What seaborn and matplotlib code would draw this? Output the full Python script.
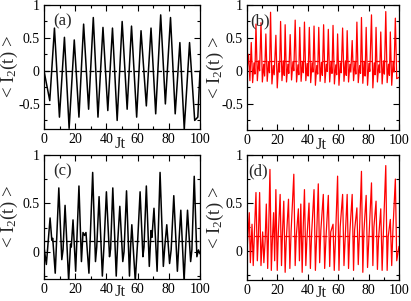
import matplotlib
matplotlib.use("Agg")
import numpy as np
import pandas as pd
import seaborn as sns
import matplotlib.pyplot as plt
from matplotlib.ticker import MultipleLocator, FixedLocator, FixedFormatter

# ---------------- data (turning points) ----------------
a_t = [0, 3.7, 6.7, 9.9, 13.1, 16.1, 19.4, 22.4, 25.4, 28.6, 31.6, 34.6, 37.8, 40.9,
       43.9, 46.9, 50.1, 53.3, 56.1, 59.4, 62.2, 65.6, 68.6, 71.6, 74.8, 77.8, 81.1,
       84.1, 87.1, 89.9, 93.3, 96.6, 98.6, 100]
a_y = [0, -0.45, 0.65, -0.70, 0.51, -0.87, 0.47, -0.70, 0.71, -0.58, 0.81, -0.70, 0.66,
       -0.60, 0.65, -0.75, 0.75, -0.58, 0.68, -0.70, 0.61, -0.53, 0.65, -0.65, 0.85,
       -0.50, 0.81, -0.65, 0.43, -0.88, 0.43, -0.75, -0.70, 0.0]
a_mean = 0.0

b_pk_t = [1.0, 2.8, 5.9, 9.2, 12.4, 15.5, 19.0, 22.1, 25.1, 28.4, 31.7, 34.7, 37.8, 41.0,
          44.1, 47.2, 50.4, 53.5, 56.6, 59.6, 62.9, 65.9, 69.2, 72.3, 75.3, 78.4, 81.9,
          84.9, 88.0, 91.3, 94.3, 97.6]
b_pk_y = [0.25, 0.43, 0.71, 0.73, 0.56, 0.89, 0.54, 0.75, 0.70, 0.55, 0.77, 0.66, 0.74,
          0.66, 0.68, 0.66, 0.70, 0.63, 0.69, 0.56, 0.65, 0.61, 0.46, 0.74, 0.81, 0.66,
          0.85, 0.66, 0.59, 0.90, 0.59, 0.80]
b_tr_t = [1.9, 3.7, 6.8, 10.1, 13.3, 16.4, 19.9, 23.0, 26.0, 29.3, 32.6, 35.6, 38.7, 41.9,
          45.0, 48.1, 51.3, 54.4, 57.5, 60.5, 63.8, 66.8, 70.1, 73.2, 76.2, 79.3, 82.8,
          85.8, 88.9, 92.2, 95.2, 98.5]
b_tr_y = [-0.15, -0.18, -0.15, -0.17, -0.16, -0.20, -0.26, -0.15, -0.17, -0.14, -0.17,
          -0.16, -0.15, -0.18, -0.22, -0.16, -0.18, -0.17, -0.20, -0.22, -0.16, -0.17,
          -0.15, -0.18, -0.19, -0.22, -0.26, -0.17, -0.20, -0.18, -0.22, -0.12]
b_bp_t = [4.6, 7.7, 11.0, 14.2, 17.3, 20.8, 23.9, 26.9, 30.2, 33.5, 36.5, 39.6, 42.8, 45.9,
          49.0, 52.2, 55.3, 58.4, 61.4, 64.7, 67.7, 71.0, 74.1, 77.1, 80.2, 83.7, 86.7,
          89.8, 93.1, 96.1]
b_bp_y = [0.12, 0.15, 0.10, 0.14, 0.08, 0.12, 0.15, 0.10, 0.13, 0.09, 0.14, 0.11, 0.12,
          0.08, 0.13, 0.10, 0.14, 0.09, 0.12, 0.15, 0.10, 0.13, 0.08, 0.14, 0.11, 0.12,
          0.09, 0.15, 0.10, 0.13]
b_dp_t = [5.2, 8.3, 11.6, 14.8, 17.9, 21.4, 24.5, 27.5, 30.8, 34.1, 37.1, 40.2, 43.4, 46.5,
          49.6, 52.8, 55.9, 59.0, 62.0, 65.3, 68.3, 71.6, 74.7, 77.7, 80.8, 84.3, 87.3,
          90.4, 93.7, 96.7]
b_dp_y = [-0.05, 0.0, -0.08, -0.03, -0.06, -0.02, -0.07, -0.04, 0.0, -0.06, -0.03, -0.08,
          -0.02, -0.05, -0.07, -0.01, -0.04, -0.06, -0.03, -0.07, -0.02, -0.05, -0.04,
          -0.08, -0.01, -0.06, -0.03, -0.05, -0.07, -0.02]
b_end_t = [0, 100]
b_end_y = [0.0, -0.10]
b_mean = 0.15

c_t = [0, 1.5, 3.9, 5.0, 5.6, 7.2, 9.5, 11.4, 12.2, 13.5, 15.8, 17.0, 17.5, 18.6, 20.3,
       22.4, 24.0, 25.0, 26.0, 26.9, 28.8, 31.2, 33.0, 33.8, 35.3, 37.4, 38.5, 40.0,
       42.0, 42.7, 44.1, 46.3, 47.3, 48.6, 50.5, 51.3, 52.9, 54.8, 55.5, 56.3, 58.5,
       60.0, 61.6, 63.4, 64.1, 65.6, 67.5, 68.6, 69.2, 70.5, 72.5, 74.4, 76.5, 77.4,
       78.7, 80.5, 81.5, 83.2, 85.5, 86.5, 87.7, 89.8, 90.8, 92.0, 94.0, 94.8, 96.3,
       98.0, 99.0, 100]
c_y = [0.05, -0.13, 0.35, 0.12, 0.14, -0.22, 0.66, -0.08, 0.02, 0.48, -0.30, 0.08, 0.05,
       0.33, -0.20, 0.68, -0.10, 0.20, 0.17, 0.20, -0.22, 0.82, -0.10, 0.05, 0.57, -0.25,
       0.08, 0.62, -0.05, 0.03, 0.66, -0.25, 0.12, 0.47, -0.10, 0.0, 0.63, -0.25, 0.05,
       0.28, -0.30, 0.10, 0.62, -0.05, 0.05, 0.68, -0.15, 0.22, 0.15, 0.45, -0.20, 0.82,
       -0.15, 0.05, 0.28, -0.12, 0.02, 0.58, -0.20, 0.10, 0.43, -0.30, 0.05, 0.43, -0.10,
       0.02, 0.78, -0.05, 0.02, -0.02]
c_mean = 0.115

d_pk_t = [1.5, 3.3, 5.9, 8.3, 10.3, 12.7, 15.1, 17.5, 19.0, 21.8, 24.2, 27.3, 30.8, 33.8,
          35.4, 37.8, 40.8, 44.1, 46.9, 50.2, 53.5, 56.6, 59.6, 62.9, 65.9, 69.2, 72.3,
          75.3, 78.4, 81.9, 84.9, 88.0, 91.3, 94.3, 97.6]
d_pk_y = [0.40, 0.28, 0.61, 0.61, 0.20, 0.49, 0.85, 0.40, 0.64, 0.59, 0.52, 0.54, 0.80,
          0.44, 0.49, 0.64, 0.50, 0.64, 0.70, 0.59, 0.58, 0.28, 0.78, 0.59, 0.59, 0.59,
          0.45, 0.83, 0.58, 0.71, 0.52, 0.44, 0.89, 0.33, 0.75]
d_tr_t = [2.2, 4.1, 6.8, 9.2, 11.1, 13.6, 16.0, 18.2, 19.9, 22.7, 25.1, 28.2, 31.7, 34.5,
          36.3, 38.7, 41.7, 45.0, 47.8, 51.1, 54.4, 57.4, 60.5, 63.8, 66.8, 70.1, 73.2,
          76.2, 79.3, 82.8, 85.8, 88.9, 92.2, 95.2, 98.5]
d_tr_y = [-0.12, -0.15, -0.10, -0.15, -0.12, -0.18, -0.20, -0.10, -0.20, -0.15, -0.22,
          -0.18, -0.15, -0.10, -0.22, -0.15, -0.18, -0.20, -0.12, -0.18, -0.16, -0.20,
          -0.20, -0.15, -0.18, -0.20, -0.14, -0.22, -0.17, -0.15, -0.19, -0.20, -0.20,
          -0.15, -0.10]
d_bp_t = [4.9, 7.5, 11.9, 14.3, 16.7, 20.6, 23.4, 25.8, 29.0, 32.4, 37.0, 39.4, 42.5, 45.7,
          48.6, 52.0, 55.1, 58.2, 61.3, 64.5, 67.6, 70.8, 73.9, 76.9, 80.1, 83.5, 86.5,
          89.7, 92.9, 96.0]
d_bp_y = [0.20, 0.15, 0.10, 0.25, 0.12, 0.18, 0.22, 0.10, 0.20, 0.15, 0.25, 0.12, 0.18,
          0.10, 0.22, 0.15, 0.20, 0.12, 0.25, 0.10, 0.18, 0.22, 0.15, 0.20, 0.10, 0.25,
          0.12, 0.18, 0.15, 0.22]
d_end_t = [0, 100]
d_end_y = [0.0, 0.05]
d_mean = 0.155

x_ticks = [0, 20, 40, 60, 80, 100]
x_ticklabels = ["0", "20", "40", "60", "80", "100"]
y_ticks_top = [-0.5, 0, 0.5, 1]
y_ticklabels_top = ["-0.5", "0", "0.5", "1"]
y_ticks_bot = [0, 0.5, 1]
y_ticklabels_bot = ["0", "0.5", "1"]
panel_labels = ["(a)", "(b)", "(c)", "(d)"]


def series(*pairs):
    t = np.concatenate([np.asarray(p[0], float) for p in pairs])
    y = np.concatenate([np.asarray(p[1], float) for p in pairs])
    df = pd.DataFrame({"t": t, "y": y}).sort_values("t")
    return df


data_a = series((a_t, a_y))
data_b = series((b_pk_t, b_pk_y), (b_tr_t, b_tr_y), (b_bp_t, b_bp_y), (b_dp_t, b_dp_y),
                (b_end_t, b_end_y))
data_c = series((c_t, c_y))
data_d = series((d_pk_t, d_pk_y), (d_tr_t, d_tr_y), (d_bp_t, d_bp_y), (d_end_t, d_end_y))

# ---------------- figure ----------------
sns.set_style("ticks")
plt.rcParams["font.family"] = ["Liberation Serif", "DejaVu Serif"]
plt.rcParams["mathtext.default"] = "regular"

fig = plt.figure(figsize=(4.11, 3.01), dpi=100)
W, H = 411.0, 301.0
boxes = [
    (44, 5, 200, 129),
    (247, 5, 399, 130),
    (44, 155, 200, 279),
    (247, 155, 399, 280),
]
panels = [
    (data_a, "black", a_mean, (-0.88, 1.0), y_ticks_top, y_ticklabels_top, 1.1),
    (data_b, "#ff0000", b_mean, (-0.9, 1.0), y_ticks_top, y_ticklabels_top, 0.9),
    (data_c, "black", c_mean, (-0.28, 1.0), y_ticks_bot, y_ticklabels_bot, 1.1),
    (data_d, "#ff0000", d_mean, (-0.3, 1.0), y_ticks_bot, y_ticklabels_bot, 0.9),
]
label_x = [0.06, 0.02, 0.06, 0.01]
ylab_x = [-0.155, -0.14, -0.155, -0.14]
xlab_y = [-0.12, -0.12, -0.105, -0.105]

for i, ((x0, y0, x1, y1), (df, col, mean, ylim, yt, ytl, lw)) in enumerate(zip(boxes, panels)):
    ax = fig.add_axes([x0 / W, 1 - y1 / H, (x1 - x0) / W, (y1 - y0) / H])
    sns.lineplot(data=df, x="t", y="y", ax=ax, color=col, lw=lw, estimator=None, sort=False)
    ax.axhline(mean, color=col, lw=0.9, ls=(0, (4, 2)))
    ax.set_xlim(0, 100)
    ax.set_ylim(*ylim)
    ax.xaxis.set_major_locator(FixedLocator(x_ticks))
    ax.xaxis.set_major_formatter(FixedFormatter(x_ticklabels))
    ax.xaxis.set_minor_locator(MultipleLocator(10))
    ax.yaxis.set_major_locator(FixedLocator(yt))
    ax.yaxis.set_major_formatter(FixedFormatter(ytl))
    ax.yaxis.set_minor_locator(MultipleLocator(0.25))
    ax.tick_params(which="both", direction="in", top=True, right=True, width=0.8,
                   labelsize=10, colors="black")
    ax.tick_params(which="major", length=4, pad=3)
    ax.tick_params(which="minor", length=2)
    for s in ax.spines.values():
        s.set_linewidth(0.9)
        s.set_color("black")
    ax.set_xlabel("Jt", fontsize=12)
    ax.xaxis.label.set_va("center")
    ax.xaxis.set_label_coords(0.49, xlab_y[i])
    ax.set_ylabel(r"< $\mathregular{I_2}$(t) >", fontsize=13.5)
    ax.yaxis.set_label_coords(ylab_x[i], 0.5)
    ax.text(label_x[i], 0.93, panel_labels[i], transform=ax.transAxes, ha="left",
            va="top", fontsize=12)

fig.savefig("out.png", dpi=100)
